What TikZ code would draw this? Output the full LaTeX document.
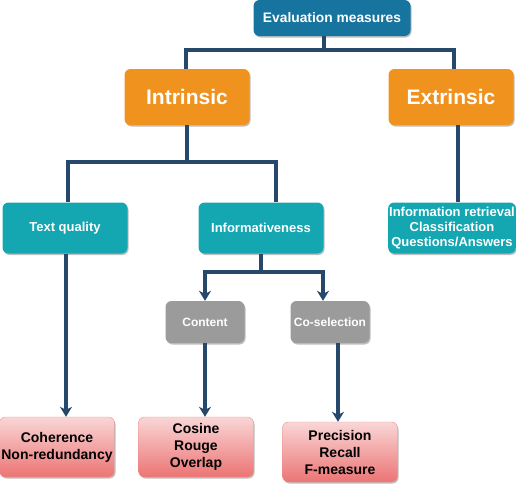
\documentclass[tikz,border=0pt]{standalone}
\usepackage{fontspec}
\setmainfont{Liberation Sans}
\usepackage{tikz}
\usetikzlibrary{shapes,arrows,arrows.meta,positioning,calc,shadows}
\definecolor{evalblue}{HTML}{17749E}
\definecolor{orangebox}{HTML}{F0921E}
\definecolor{tealbox}{HTML}{14A6B1}
\definecolor{graybox}{HTML}{9B9B9B}
\definecolor{pinktop}{HTML}{F9D6D6}
\definecolor{pinkbot}{HTML}{EC7474}
\definecolor{linkcol}{HTML}{26486A}

\begin{document}
\begin{tikzpicture}[
  x=1pt, y=-1pt,
  box/.style={rounded corners=6pt, align=center, inner sep=1pt,
              font=\bfseries, text=white,
              drop shadow={shadow xshift=1pt, shadow yshift=-1.5pt, opacity=0.25, fill=black}},
  topbox/.style={box, fill=evalblue, minimum width=157pt, minimum height=36pt, font=\fontsize{13.8}{16}\bfseries},
  catbox/.style={box, fill=orangebox, minimum width=125pt, minimum height=56pt, font=\fontsize{21}{24}\bfseries},
  subbox/.style={box, fill=tealbox, minimum width=125pt, minimum height=51pt, font=\fontsize{13}{15}\bfseries},
  kindbox/.style={box, fill=graybox, minimum width=79pt, minimum height=42pt, font=\fontsize{12}{14}\bfseries},
  leafbox/.style={box, draw=pinkbot!80!white, top color=pinktop, bottom color=pinkbot, text=black,
                  minimum width=115pt, minimum height=60pt, font=\fontsize{14}{17}\bfseries},
  link/.style={draw=linkcol, line width=3.2pt},
  arr/.style={link, -{Stealth[length=10pt, width=12pt, inset=3pt]}}
]
\useasboundingbox (0,0) rectangle (516,488);

\node[topbox]  (eval)  at (332,18)  {Evaluation measures};
\node[catbox]  (intr)  at (187,97)  {Intrinsic};
\node[catbox]  (extr)  at (451,97)  {Extrinsic};
\node[subbox]  (tq)    at (65,228)  {Text quality};
\node[subbox]  (inf)   at (261,228) {Informativeness};
\node[subbox]  (ir)    at (452,228) {Information retrieval\\Classification\\Questions/Answers};
\node[kindbox] (cont)  at (205,322) {Content};
\node[kindbox] (cosel) at (330,322) {Co-selection};
\node[leafbox] (coh)   at (57,447)  {Coherence\\Non-redundancy};
\node[leafbox] (cos)   at (196,447) {Cosine\\Rouge\\Overlap};
\node[leafbox] (prec)  at (340,452) {Precision\\Recall\\F-measure};

\coordinate (j1) at (324,50);
\coordinate (j2) at (187,162);
\coordinate (j3) at (261,272);

\draw[link] (eval.south -| j1) -- (j1);
\draw[link] (j1) -| ([xshift=-1pt]intr.north);
\draw[link] (j1) -| ([xshift=3pt]extr.north);
\draw[link] (intr.south) -- (j2);
\draw[link] (j2) -| ([xshift=3pt]tq.north);
\draw[link] (j2) -| ([xshift=15pt]inf.north);
\draw[link] ([xshift=7pt]extr.south) -- ([xshift=7pt]extr.south |- ir.north);
\draw[link] (inf.south) -- (j3);
\draw[arr] (j3) -| (cont.north);
\draw[arr] (j3) -| ([xshift=-7pt]cosel.north);
\draw[arr] ([xshift=1pt]tq.south) -- ([xshift=1pt]tq.south |- coh.north);
\draw[arr] (cont.south) -- (cont.south |- cos.north);
\draw[arr] ([xshift=8pt]cosel.south) -- ([xshift=8pt]cosel.south |- prec.north);

\end{tikzpicture}
\end{document}
